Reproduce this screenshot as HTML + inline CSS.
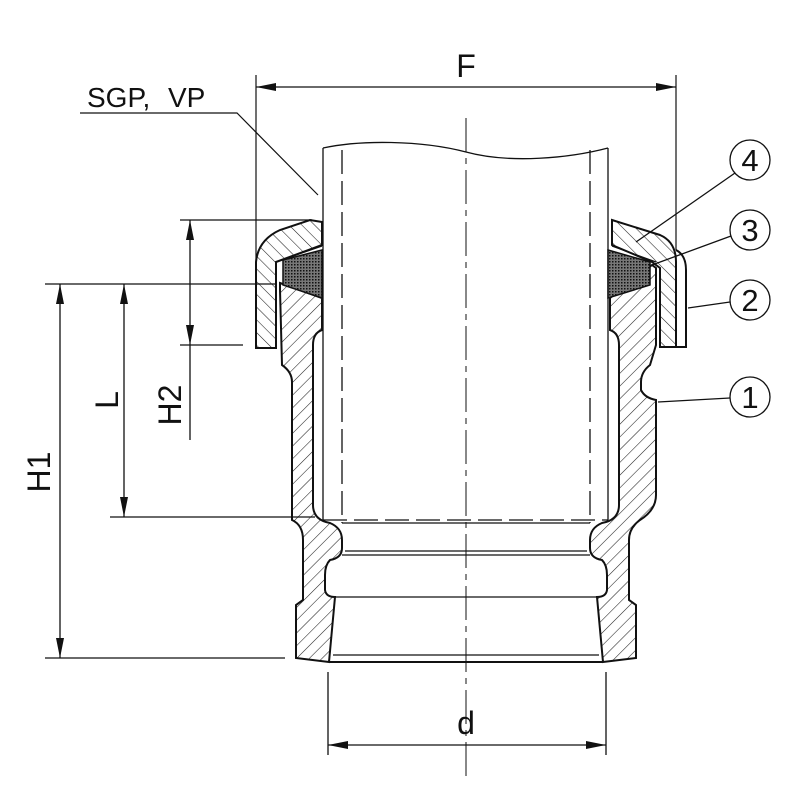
<!DOCTYPE html>
<html><head><style>body{margin:0;background:#fff}svg{display:block}</style></head><body>
<svg width="800" height="800" viewBox="0 0 800 800" xmlns="http://www.w3.org/2000/svg" font-family="Liberation Sans, sans-serif">
<defs>
<pattern id="h" patternUnits="userSpaceOnUse" width="9" height="9" patternTransform="rotate(45)"><line x1="0" y1="0" x2="0" y2="9" stroke="#222" stroke-width="1.1"/></pattern>
<pattern id="h2" patternUnits="userSpaceOnUse" width="9" height="9" patternTransform="rotate(-45)"><line x1="0" y1="0" x2="0" y2="9" stroke="#222" stroke-width="1.1"/></pattern>
<pattern id="dots" patternUnits="userSpaceOnUse" width="3" height="3"><rect width="3" height="3" fill="#777"/><rect width="1.5" height="1.5" fill="#111"/></pattern>
<marker id="a" viewBox="0 0 20 8" refX="20" refY="4" markerWidth="20" markerHeight="8" markerUnits="userSpaceOnUse" orient="auto-start-reverse"><path d="M0,0 L20,4 L0,8 z" fill="#111"/></marker>
</defs>
<g stroke="#111" fill="none" stroke-width="1.3">
<line x1="466" y1="118" x2="466" y2="780" stroke-dasharray="34,6,6,6" stroke-width="1"/>
<path d="M323,148 C360,140 420,140 466,152 C510,164 570,158 608,148" />
<line x1="323" y1="148" x2="323" y2="520"/>
<line x1="608" y1="148" x2="608" y2="520"/>
<line x1="342" y1="150" x2="342" y2="523" stroke-dasharray="24,7"/>
<line x1="590" y1="150" x2="590" y2="523" stroke-dasharray="24,7"/>
<line x1="323" y1="520" x2="608" y2="520" stroke-dasharray="24,7"/>

<path fill="url(#h)" stroke-width="2" d="M280,283 L322,298 L322,330 Q313,333 313,345 L313,505 Q313,520 330,523 Q342,528 342,540 L342,548 Q342,558 330,560 Q325,565 325,575 L325,590 Q326,597 335,597 L329,662 L296,658 L296,605 L303,600 L303,540 Q303,525 292,520 L292,382 Q292,372 282,365 L280,290 Z"/>
<path fill="url(#h)" stroke-width="2" d="M652,265 L610,298 L610,330 Q619,333 619,345 L619,505 Q619,520 602,523 Q590,528 590,540 L590,548 Q590,558 602,560 Q607,565 607,575 L607,590 Q606,597 597,597 L603,662 L636,658 L636,605 L629,600 L629,540 Q629,528 640,520 Q656,510 656,495 L656,400 Q645,398 641,390 L641,382 Q641,372 650,365 L656,345 L656,268 Z"/>
<path fill="url(#h2)" stroke-width="2" d="M256,348 L256,262 Q258,240 280,230 L310,220 L322,222 L322,245 L276,262 L276,348 Z"/>
<path fill="url(#h2)" stroke-width="2" d="M612,220 L660,235 Q676,242 676,262 L676,347 L660,347 L660,268 L652,262 L612,245 Z"/>
<path stroke-width="2" d="M676,250 Q686,255 686,270 L686,347 L676,347"/>
<path fill="url(#dots)" stroke-width="1.5" d="M283,260 L322,250 L322,298 L283,285 Z"/>
<path fill="url(#dots)" stroke-width="1.5" d="M608,250 L650,262 L650,285 L608,298 Z"/>
<path stroke-width="1.2" d="M276,262 L322,246 M612,246 L656,262"/>
<line x1="342" y1="523" x2="590" y2="523"/>
<line x1="345" y1="551" x2="587" y2="551"/>
<line x1="342" y1="555" x2="590" y2="555"/>
<line x1="335" y1="597" x2="597" y2="597"/>
<line x1="333" y1="655" x2="599" y2="655"/>
<line x1="329" y1="662" x2="603" y2="662" stroke-width="2"/>

<line x1="256" y1="75" x2="256" y2="348" stroke-width="1.2"/>
<line x1="676" y1="75" x2="676" y2="250" stroke-width="1.2"/>
<line x1="256" y1="87" x2="676" y2="87" marker-start="url(#a)" marker-end="url(#a)"/>
<path d="M80,113 L237,113 L318,195" stroke-width="1.2"/>
<line x1="180" y1="220" x2="312" y2="220"/>
<line x1="180" y1="345" x2="243" y2="345"/>
<line x1="190" y1="220" x2="190" y2="345" marker-start="url(#a)" marker-end="url(#a)"/>
<line x1="190" y1="345" x2="190" y2="440"/>
<line x1="45" y1="284" x2="275" y2="284"/>
<line x1="110" y1="517" x2="315" y2="517"/>
<line x1="124" y1="284" x2="124" y2="517" marker-start="url(#a)" marker-end="url(#a)"/>
<line x1="45" y1="658" x2="285" y2="658"/>
<line x1="60" y1="284" x2="60" y2="658" marker-start="url(#a)" marker-end="url(#a)"/>
<line x1="328" y1="672" x2="328" y2="755"/>
<line x1="606" y1="672" x2="606" y2="755"/>
<line x1="328" y1="745" x2="606" y2="745" marker-start="url(#a)" marker-end="url(#a)"/>
<circle cx="750" cy="160" r="20"/><circle cx="750" cy="230" r="20"/><circle cx="750" cy="300" r="20"/><circle cx="750" cy="397" r="20"/>
<line x1="735" y1="173" x2="636" y2="242"/>
<line x1="731" y1="236" x2="652" y2="265"/>
<line x1="730" y1="302" x2="688" y2="308"/>
<line x1="730" y1="398" x2="658" y2="402"/>
</g>
<g fill="#111" text-anchor="middle">
<text x="466" y="77" font-size="32">F</text>
<text x="87" y="107" font-size="28" text-anchor="start">SGP,</text>
<text x="168" y="107" font-size="28" text-anchor="start">VP</text>
<text x="466" y="734" font-size="32">d</text>
<text x="750" y="171" font-size="31">4</text>
<text x="750" y="241" font-size="31">3</text>
<text x="750" y="311" font-size="31">2</text>
<text x="750" y="408" font-size="31">1</text>
<text transform="translate(181,405) rotate(-90)" font-size="32">H2</text>
<text transform="translate(118,400) rotate(-90)" font-size="32">L</text>
<text transform="translate(50,472) rotate(-90)" font-size="32">H1</text>
</g>
</svg>
</body></html>
